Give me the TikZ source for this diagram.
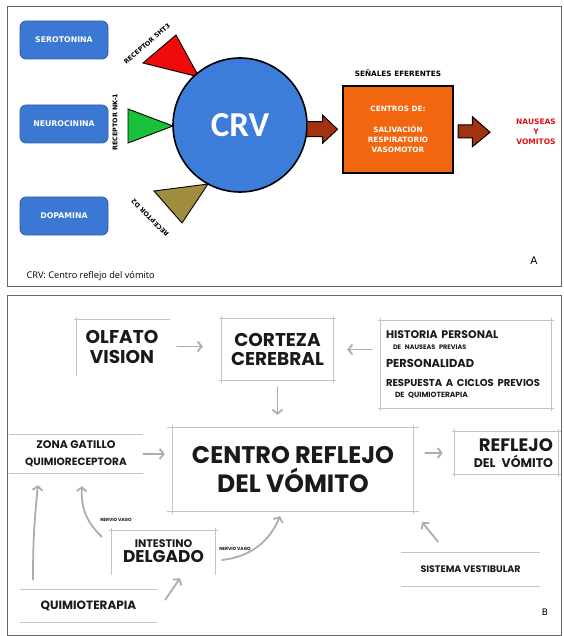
\documentclass[tikz,border=0pt]{standalone}
\usepackage{fontspec}
\setmainfont{Carlito}
\newfontfamily\spartan{Poppins}
\newfontfamily\verd{DejaVu Sans}
\newfontfamily\opens{Open Sans}
\usetikzlibrary{arrows.meta,positioning}

\definecolor{crvblue}{HTML}{3C7DD9}
\definecolor{boxblue}{HTML}{3A78D4}
\definecolor{boxedge}{HTML}{2D5FA6}
\definecolor{centroorange}{HTML}{F2660F}
\definecolor{arrowred}{HTML}{A3320E}
\definecolor{recred}{HTML}{F00A0A}
\definecolor{recgreen}{HTML}{19C23A}
\definecolor{recolive}{HTML}{A08E3E}
\definecolor{nausred}{HTML}{E0101A}
\definecolor{sketchgray}{HTML}{C4C4C4}
\definecolor{arrowgray}{HTML}{ADADAD}
\definecolor{inkblack}{HTML}{1A1A1A}
\definecolor{framegray}{HTML}{666666}

\tikzset{
  neuro/.style={draw=boxedge, fill=boxblue, rounded corners=6pt, line width=0.8pt,
    minimum width=88pt, minimum height=38pt, text=white,
    font=\verd\bfseries\fontsize{7.8}{9}\selectfont},
  reclabel/.style={inner sep=0pt, font=\verd\bfseries\fontsize{6.4}{7}\selectfont},
  blockarrow/.style={draw=black, fill=arrowred, line width=1pt, line join=miter},
  sketch/.style={draw=sketchgray, line width=0.7pt, shorten >=-3pt, shorten <=-3pt},
  flow/.style={draw=arrowgray, line width=1.8pt, line cap=round,
    -{Straight Barb[length=4pt,width=10pt]}},
  pbox/.style={inner sep=0pt, text=inkblack, align=center, font=\spartan\bfseries},
}

\begin{document}
\begin{tikzpicture}[x=1pt, y=-1pt]
  \useasboundingbox (0,0) rectangle (563,636);
  % panel frames
  \draw[framegray, line width=0.8pt] (7,6) rectangle (561,286);
  \draw[framegray, line width=0.8pt] (7,295) rectangle (561,635);

  % ---------------- panel A ----------------
  % neurotransmitters
  \node[neuro] (sero) at (64,40)  {SEROTONINA};
  \node[neuro] (neur) at (64,124) {NEUROCININA};
  \node[neuro] (dopa) at (64,216) {DOPAMINA};
  % receptors
  \filldraw[fill=recred,   line width=0.9pt] (143,63)  -- (176,35)  -- (199,77)  -- cycle;
  \filldraw[fill=recgreen, line width=0.9pt] (128,109) -- (128,143) -- (173,126) -- cycle;
  \filldraw[fill=recolive, line width=0.9pt] (154,191) -- (208,184) -- (182,223) -- cycle;
  \node[reclabel, rotate=41]  (r_5ht3) at (147,44)  {RECEPTOR 5HT3};
  \node[reclabel, rotate=90]  (r_nk1)  at (115,122) {RECEPTOR NK-1};
  \node[reclabel, rotate=135] (r_d2)   at (150,218) {RECEPTOR D2};
  % vomiting centre
  \node[circle, fill=crvblue, draw=black, line width=1.6pt, minimum size=134pt,
        text=white, font=\fontsize{35}{36}\selectfont\bfseries] (crv) at (240,125) {CRV};
  % efferent centres
  \node[draw=black, fill=centroorange, line width=1.4pt, minimum width=110pt,
        minimum height=87pt, text=white, align=center,
        font=\verd\bfseries\fontsize{7.3}{10.3}\selectfont] (centros) at (398,129.5)
        {CENTROS DE:\\[10pt]SALIVACIÓN\\RESPIRATORIO\\VASOMOTOR};
  \node[above=5pt of centros, font=\verd\bfseries\fontsize{7.3}{8}\selectfont] (efer) {SEÑALES EFERENTES};
  \node[text=nausred, align=center, font=\verd\bfseries\fontsize{7.5}{10}\selectfont] (naus) at (536,132)
        {NAUSEAS\\Y\\VOMITOS};
  % block arrows
  \begin{scope}[shift={(crv.east)}]
    \draw[blockarrow] (-1,-3.3) -- (14.7,-3.3) -- (14.7,-10) -- (29.7,4.3)
      -- (14.7,18.3) -- (14.7,11.7) -- (-1,11.7) -- cycle;
  \end{scope}
  \begin{scope}[shift={(centros.east)}]
    \draw[blockarrow] (4.3,-4.5) -- (18.7,-4.5) -- (18.7,-12.8) -- (36.3,2.8)
      -- (18.7,17.2) -- (18.7,8.5) -- (4.3,8.5) -- cycle;
  \end{scope}
  \node[anchor=west, font=\opens\fontsize{9.2}{10}\selectfont] (note) at (23,276) {CRV: Centro reflejo del vómito};
  \node[font=\verd\fontsize{10.5}{11}\selectfont] (tag_a) at (534,261) {A};

  % ---------------- panel B ----------------
  \node[pbox, minimum width=90pt, minimum height=53pt, font=\spartan\bfseries\fontsize{18.5}{20}\selectfont]
        (olf) at (122,346.5) {OLFATO\\VISION};
  \node[pbox, minimum width=111pt, minimum height=61pt, font=\spartan\bfseries\fontsize{18.5}{19}\selectfont]
        (cort) at (277.5,349.5) {CORTEZA\\CEREBRAL};
  \node[pbox, minimum width=170pt, minimum height=87pt, text width=160pt, align=left,
        font=\spartan\bfseries\fontsize{11}{11}\selectfont] (hist) at (466,364.5)
        {HISTORIA PERSONAL\\
         \hspace*{7pt}{\fontsize{6.5}{7}\selectfont DE NAUSEAS PREVIAS}\\[6.7pt]
         {\fontsize{11.5}{12}\selectfont PERSONALIDAD}\\[8.6pt]
         {\fontsize{10}{11}\selectfont RESPUESTA A CICLOS PREVIOS}\\
         \hspace*{9pt}{\fontsize{7.5}{8}\selectfont DE QUIMIOTERAPIA}};
  \node[pbox, minimum width=240pt, minimum height=83pt, font=\spartan\bfseries\fontsize{24}{28.5}\selectfont]
        (cent) at (293,469.5) {CENTRO REFLEJO\\{\fontsize{25}{26}\selectfont DEL VÓMITO}};
  \node[pbox, minimum width=103pt, minimum height=42pt, text width=93pt, align=right,
        font=\spartan\bfseries\fontsize{18}{16}\selectfont] (refl) at (506.5,453)
        {REFLEJO\\{\fontsize{12.5}{13}\selectfont DEL VÓMITO}};
  \node[pbox, minimum width=128pt, minimum height=38pt, font=\spartan\bfseries\fontsize{11}{17}\selectfont]
        (zona) at (76,454) {ZONA GATILLO\\{\fontsize{10.5}{11}\selectfont QUIMIORECEPTORA}};
  \node[pbox, minimum width=103pt, minimum height=41pt, font=\spartan\bfseries\fontsize{11}{15}\selectfont]
        (inte) at (163.5,551.5) {INTESTINO\\{\fontsize{17}{17}\selectfont DELGADO}};
  \node[pbox, minimum width=131pt, minimum height=32pt, font=\spartan\bfseries\fontsize{12}{13}\selectfont]
        (quim) at (88.5,606) {QUIMIOTERAPIA};
  \node[pbox, minimum width=133pt, minimum height=33pt, font=\spartan\bfseries\fontsize{9.5}{10}\selectfont]
        (vest) at (470.5,569.5) {SISTEMA VESTIBULAR};

  % sketched borders
  \draw[sketch] (olf.north west) -- (olf.north east);
  \draw[sketch] (olf.north west) -- (olf.south west);
  \draw[sketch] (cort.north west) -- (cort.north east);
  \draw[sketch] (cort.south west) -- (cort.south east);
  \draw[sketch] (cort.north west) -- (cort.south west);
  \draw[sketch] (cort.north east) -- (cort.south east);
  \draw[sketch] (hist.north west) -- (hist.north east);
  \draw[sketch] (hist.south west) -- (hist.south east);
  \draw[sketch] (hist.north west) -- (hist.south west);
  \draw[sketch] (hist.north east) -- (hist.south east);
  \draw[sketch, shorten >=-6pt, shorten <=-6pt] (cent.north west) -- (cent.north east);
  \draw[sketch, shorten >=-6pt, shorten <=-6pt] (cent.south west) -- (cent.south east);
  \draw[sketch] (cent.north west) -- (cent.south west);
  \draw[sketch] (cent.north east) -- (cent.south east);
  \draw[sketch] (refl.north west) -- (refl.north east);
  \draw[sketch] (refl.south west) -- (refl.south east);
  \draw[sketch] (refl.north west) -- (refl.south west);
  \draw[sketch] (refl.north east) -- (refl.south east);
  \draw[sketch] (zona.north west) -- (zona.north east);
  \draw[sketch] (zona.south west) -- (zona.south east);
  \draw[sketch] (inte.north west) -- (inte.north east);
  \draw[sketch] (inte.north west) -- (inte.south west);
  \draw[sketch] (inte.north east) -- (inte.south east);
  \draw[sketch] (quim.north west) -- (quim.north east);
  \draw[sketch] (quim.south west) -- (quim.south east);
  \draw[sketch] (vest.north west) -- (vest.north east);
  \draw[sketch] (vest.south west) -- (vest.south east);

  % connectors
  \draw[flow, shorten <=10pt, shorten >=19pt] (olf.east) -- (olf.east -| cort.west);
  \draw[flow, shorten <=9pt, shorten >=14pt] (cort.east -| hist.west) -- (cort.east);
  \draw[flow, shorten <=7pt, shorten >=13pt] (cort.south) -- (cort.south |- cent.north);
  \draw[flow, shorten <=12pt, shorten >=12pt] (cent.east |- refl.west) -- (refl.west);
  \draw[flow, shorten <=3pt, shorten >=8pt] (zona.east) -- (zona.east -| cent.west);
  \draw[flow] ([xshift=-55.5pt,yshift=10pt]quim.north) to[bend left=3] ([xshift=-38pt,yshift=-12pt]zona.south);
  \draw[flow] ([xshift=-10pt,yshift=-6pt]inte.north west) to[bend left=25] ([xshift=6pt,yshift=-13pt]zona.south);
  \draw[flow] ([xshift=7pt,yshift=-8.5pt]inte.east) to[bend right=30] ([xshift=-13pt,yshift=-5pt]cent.south);
  \draw[flow] ([xshift=11pt,yshift=-10pt]quim.north east) -- ([xshift=16.5pt,yshift=-6pt]inte.south);
  \draw[flow] ([xshift=-32.5pt,yshift=11pt]vest.north) -- ([xshift=9pt,yshift=-11pt]cent.south east);
  % vagus labels
  \node[font=\spartan\bfseries\fontsize{4.5}{5}\selectfont, text=inkblack] (vago_1) at (116,520) {NERVIO VAGO};
  \node[font=\spartan\bfseries\fontsize{4.5}{5}\selectfont, text=inkblack] (vago_2) at (235,549) {NERVIO VAGO};
  \node[font=\verd\fontsize{9}{10}\selectfont] (tag_b) at (545,612) {B};
\end{tikzpicture}
\end{document}
